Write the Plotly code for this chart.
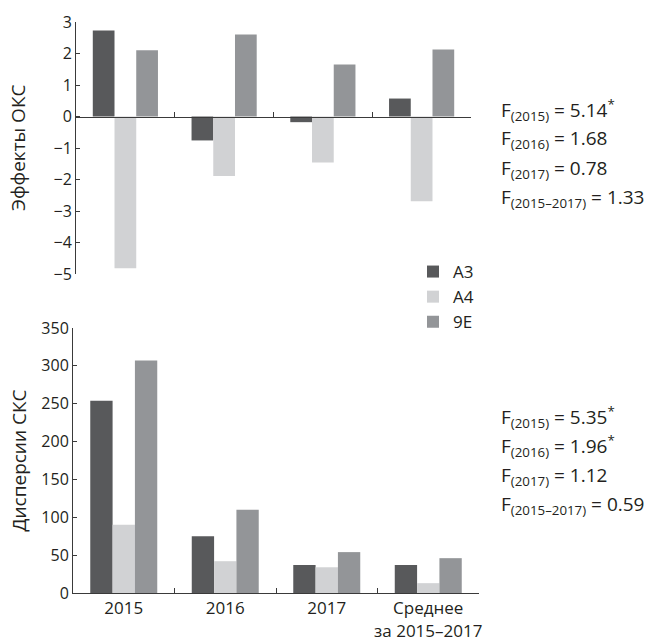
import plotly.graph_objects as go

# Categories and groups
categories = ["2015", "2016", "2017", "Среднее<br>за 2015–2017"]
groups = ["А3", "А4", "9Е"]
colors = ["#58595b", "#d1d2d4", "#939598"]

# Effects of general combining ability (top panel)
oks_a3 = [2.73, -0.76, -0.18, 0.57]
oks_a4 = [-4.82, -1.89, -1.46, -2.69]
oks_9e = [2.10, 2.60, 1.65, 2.13]

# Variances of specific combining ability (bottom panel)
sks_a3 = [254, 75, 37, 37]
sks_a4 = [90, 42, 34, 13]
sks_9e = [307, 110, 54, 46]

# F-statistics
f_top = [("2015", "5.14", True), ("2016", "1.68", False),
         ("2017", "0.78", False), ("2015–2017", "1.33", False)]
f_bottom = [("2015", "5.35", True), ("2016", "1.96", True),
            ("2017", "1.12", False), ("2015–2017", "0.59", False)]

W, H = 650, 640
FONT = "Open Sans"
TXT = "#231f20"
AX = "#3a3a3a"

top_range = [-5, 3]
bot_range = [0, 350]
top_ydom = [(H - 274) / H, (H - 22) / H]
bot_ydom = [(H - 593) / H, (H - 328) / H]

fig = go.Figure()

top_vals = [oks_a3, oks_a4, oks_9e]
bot_vals = [sks_a3, sks_a4, sks_9e]
for name, col, tv, bv in zip(groups, colors, top_vals, bot_vals):
    fig.add_trace(go.Bar(x=categories, y=tv, name=name, marker_color=col,
                         marker_line_width=0, xaxis="x", yaxis="y",
                         legendgroup=name))
    fig.add_trace(go.Bar(x=categories, y=bv, name=name, marker_color=col,
                         marker_line_width=0, xaxis="x2", yaxis="y2",
                         legendgroup=name, showlegend=False))

# position of y=0 within the top panel, in paper coordinates
zero_frac = (0 - top_range[0]) / (top_range[1] - top_range[0])
zero_pos = top_ydom[0] + zero_frac * (top_ydom[1] - top_ydom[0])

common_x = dict(type="category", showline=True, linecolor=AX, linewidth=1,
                ticks="inside", ticklen=5, tickcolor=AX, tickson="boundaries",
                showgrid=False, zeroline=False, range=[-0.5, 3.5],
                tickangle=0, automargin=False,
                tickfont=dict(family=FONT, size=17, color=TXT))
common_y = dict(showline=True, linecolor=AX, linewidth=1, ticks="inside",
                ticklen=4, tickcolor=AX, showgrid=False, zeroline=False,
                automargin=False,
                tickfont=dict(family=FONT, size=16, color=TXT))

fig.update_layout(
    width=W, height=H,
    margin=dict(l=0, r=0, t=0, b=0),
    paper_bgcolor="white", plot_bgcolor="white",
    barmode="group", bargap=0.34, bargroupgap=0,
    font=dict(family=FONT, size=16, color=TXT),
    xaxis=dict(common_x, domain=[76 / W, 471 / W], anchor="free",
               position=zero_pos, showticklabels=False),
    yaxis=dict(common_y, domain=top_ydom, range=top_range, dtick=1,
               anchor="x"),
    xaxis2=dict(common_x, domain=[73 / W, 479 / W], anchor="y2"),
    yaxis2=dict(common_y, domain=bot_ydom, range=bot_range, dtick=50,
                anchor="x2"),
    legend=dict(x=413 / W, y=(H - 254) / H, xanchor="left", yanchor="top",
                font=dict(family=FONT, size=17, color=TXT),
                bgcolor="rgba(0,0,0,0)", tracegroupgap=0,
                itemwidth=30),
    showlegend=True,
)

# rotated axis titles
for title, ydom in (("Эффекты ОКС", top_ydom), ("Дисперсии СКС", bot_ydom)):
    fig.add_annotation(
        text=title, xref="paper", yref="paper", x=18 / W,
        y=(ydom[0] + ydom[1]) / 2, textangle=-90, showarrow=False,
        xanchor="center", yanchor="middle",
        font=dict(family=FONT, size=19, color=TXT))


def f_label(period, value, star):
    s = f"F<sub>({period})</sub> = {value}"
    if star:
        s += "<sup>*</sup>"
    return s


for rows, y0 in ((f_top, 110), (f_bottom, 417)):
    for i, (period, value, star) in enumerate(rows):
        fig.add_annotation(
            text=f_label(period, value, star), xref="paper", yref="paper",
            x=499 / W, y=(H - (y0 + i * 29.3)) / H,
            xanchor="left", yanchor="middle", showarrow=False,
            font=dict(family=FONT, size=19, color=TXT))

fig.write_html("out.html")
